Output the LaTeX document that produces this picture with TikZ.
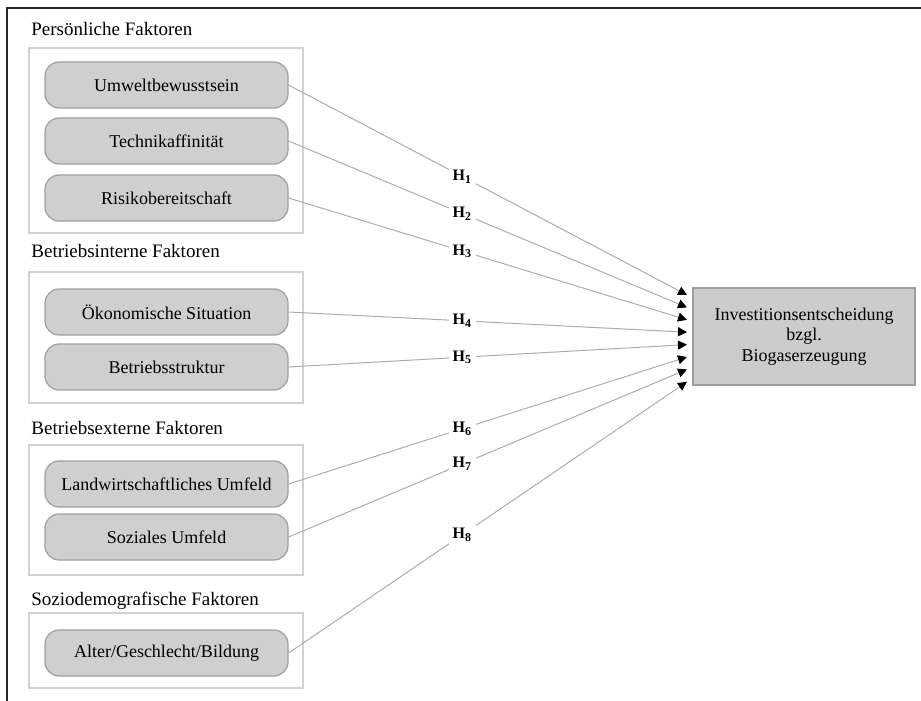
\documentclass[tikz,border=0pt]{standalone}
\usepackage{fontspec}
\setmainfont{Liberation Serif}
\usetikzlibrary{arrows.meta}
\tikzset{
  faktor/.style={draw=gray!75, fill=gray!38, line width=0.6pt, rounded corners=7pt,
    minimum width=121.5pt, minimum height=23pt, inner sep=1pt, font=\fontsize{9}{11}\selectfont},
  gruppe/.style={draw=gray!35, line width=0.8pt},
  titel/.style={anchor=base west, inner sep=0pt, font=\fontsize{9.5}{11}\selectfont},
  pfeil/.style={draw=gray!65, line width=0.5pt, -{Triangle[length=4.5pt,width=4.5pt,color=black]}},
  hyp/.style={fill=white, inner sep=2pt, pos=0.436, font=\fontsize{8}{9}\selectfont\bfseries},
}
\begin{document}
\begin{tikzpicture}[x=0.5pt,y=-0.5pt]
%\draw[step=50,thin,gray!30](0,0) grid (921,701);
\useasboundingbox (0,0) rectangle (921,701);
\draw[gray!30!black, line width=0.8pt] (7,701) -- (7,8) -- (921,8);
% Gruppen
\node[titel] (t1) at (31,36) {Persönliche Faktoren};
\node[titel] (t2) at (31,257) {Betriebsinterne Faktoren};
\node[titel] (t3) at (31,434) {Betriebsexterne Faktoren};
\node[titel] (t4) at (31,605) {Soziodemografische Faktoren};
\draw[gruppe] (29,48) rectangle (303,233);
\draw[gruppe] (29,272) rectangle (303,403);
\draw[gruppe] (29,445) rectangle (303,575);
\draw[gruppe] (29,613) rectangle (303,688);
% Faktoren
\node[faktor] (umwelt) at (166.5,85) {Umweltbewusstsein};
\node[faktor] (technik) at (166.5,141) {Technikaffinität};
\node[faktor] (risiko) at (166.5,198) {Risikobereitschaft};
\node[faktor] (oekon) at (166.5,312) {Ökonomische Situation};
\node[faktor] (struktur) at (166.5,367) {Betriebsstruktur};
\node[faktor] (landw) at (166.5,484) {Landwirtschaftliches Umfeld};
\node[faktor] (sozial) at (166.5,537) {Soziales Umfeld};
\node[faktor] (alter) at (166.5,653) {Alter/Geschlecht/Bildung};
% Ziel
\node[draw=gray!75, fill=gray!40, line width=0.6pt, minimum width=111pt, minimum height=48.5pt,
  align=center, font=\fontsize{9}{10.3}\selectfont] (ziel) at (804,336.5)
  {Investitionsentscheidung\\bzgl.\\Biogaserzeugung};
\foreach \i in {1,...,8}
  \coordinate (e\i) at (687,{295+12.4*(\i-1)});
% Hypothesen
\foreach \s/\i in {umwelt/1,technik/2,risiko/3,oekon/4,struktur/5,landw/6,sozial/7,alter/8}
  \draw[pfeil] (\s.east) -- node[hyp] (h\i) {H\textsubscript{\i}} (e\i);
\end{tikzpicture}
\end{document}
